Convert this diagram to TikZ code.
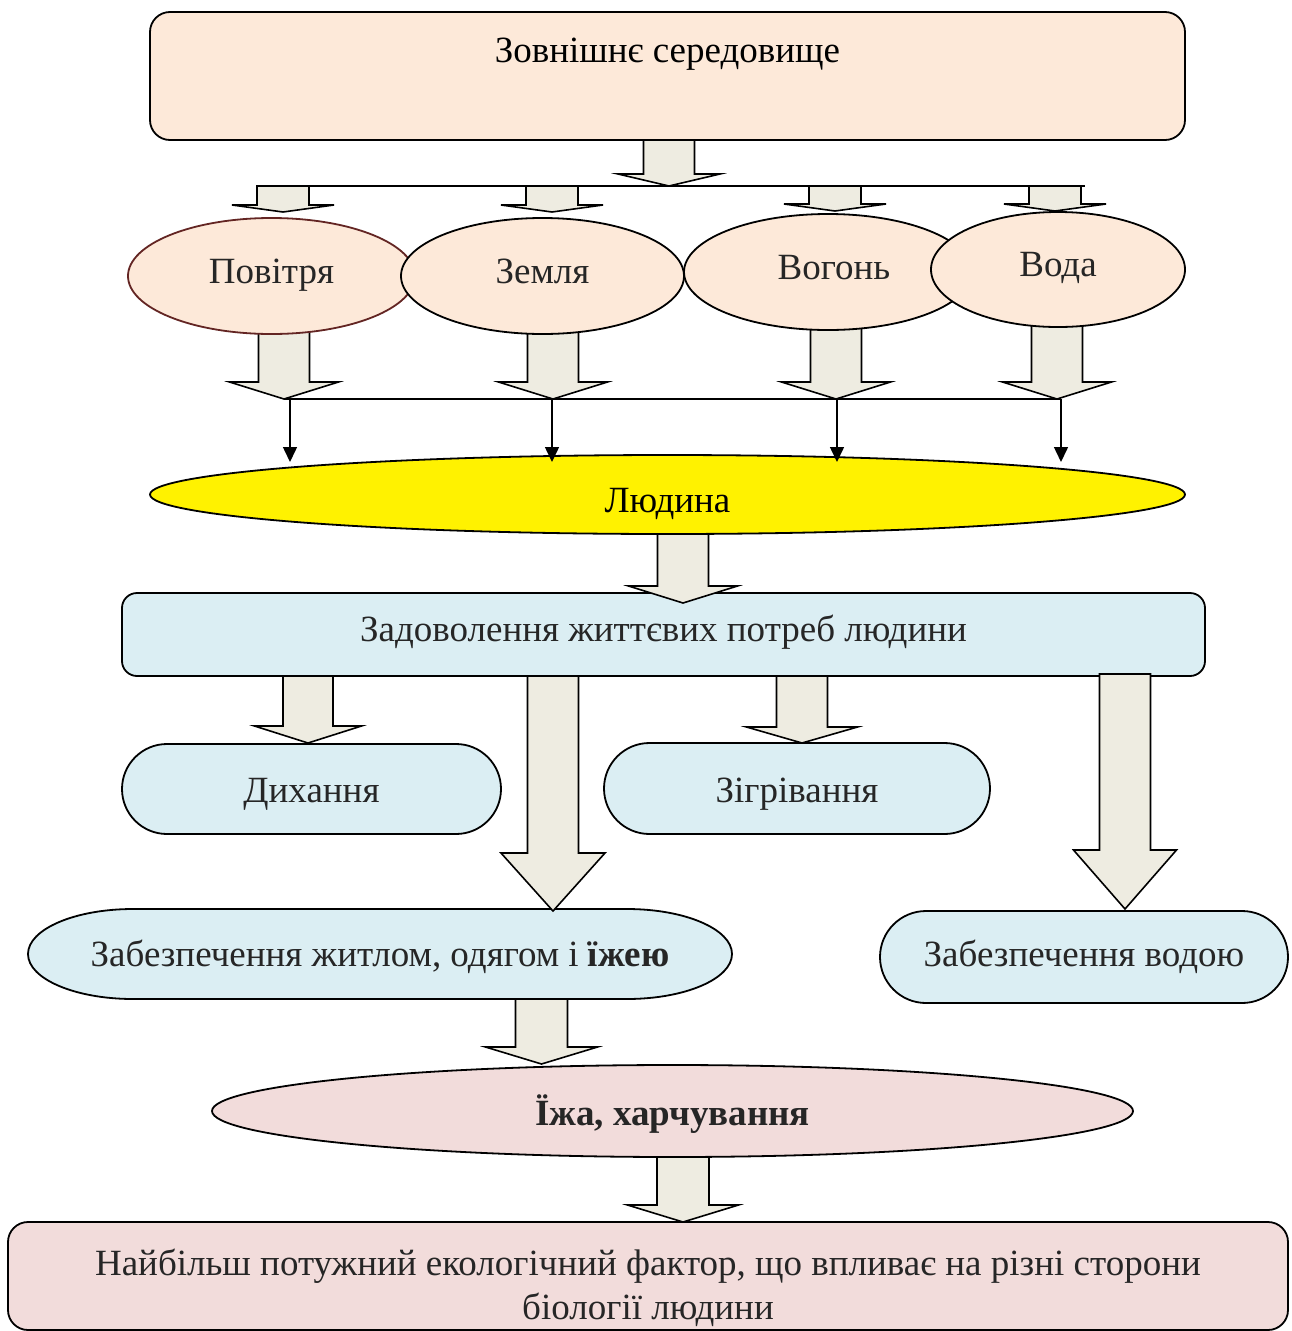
\documentclass[tikz,border=0pt]{standalone}
\usepackage{fontspec}
\setmainfont{Liberation Serif}
\usetikzlibrary{calc,shapes.geometric,shapes.misc,arrows.meta}

\definecolor{peach}{HTML}{FDE9D9}
\definecolor{sky}{HTML}{DBEEF3}
\definecolor{rose}{HTML}{F2DCDB}
\definecolor{stem}{HTML}{EEECE1}
\definecolor{ink}{HTML}{262626}
\definecolor{maroon}{HTML}{632523}

\pgfdeclarelayer{back}
\pgfsetlayers{back,main}

% block arrow: #1 start point (only its y is used), #2 tip point,
% #3 shaft half-width, #4 head half-width, #5 head length (all in pt)
\newcommand\blockarrow[5]{%
  \draw[barrow] let \p1=#1, \p2=#2 in
    (\x2-#3pt,\y1) -- (\x2+#3pt,\y1) -- (\x2+#3pt,\y2+#5pt) --
    (\x2+#4pt,\y2+#5pt) -- (\p2) -- (\x2-#4pt,\y2+#5pt) --
    (\x2-#3pt,\y2+#5pt) -- cycle;}

\tikzset{
  every node/.style={font=\fontsize{37}{44}\selectfont, text=ink,
    inner sep=0pt, outer sep=0pt},
  txt/.style={text height=21pt, text depth=7pt},
  shapeline/.style={draw=black, line width=1.8pt},
  box/.style={shapeline, rectangle, rounded corners=20pt},
  oval/.style={shapeline, ellipse, txt},
  pill/.style={shapeline, rounded rectangle},
  barrow/.style={draw=black, line width=1.6pt, fill=stem, line join=miter},
  bus/.style={draw=black, line width=1.5pt},
  feed/.style={draw=black, line width=1.5pt, -{Triangle[length=15pt,width=14pt]}},
}

\begin{document}
\begin{tikzpicture}[x=1pt,y=-1pt]
\useasboundingbox (0,0) rectangle (1291,1331);

% distribution lines
\coordinate (bus1w) at (257,186);
\coordinate (bus1e) at (1085,186);
\coordinate (bus2w) at (284,399);
\coordinate (bus2e) at (1061,399);

% environment
\node[box, fill=peach, text=black, minimum width=1035pt, minimum height=128pt,
      text height=21pt, text depth=49pt] (env) at (667.5,76) {Зовнішнє середовище};

% the four elements
\node[oval, fill=peach, draw=maroon, minimum width=287pt, minimum height=116pt] (air) at (271.5,276) {Повітря};
\node[oval, fill=peach, minimum width=283pt, minimum height=116pt] (earth) at (542.5,276) {Земля};
\node[oval, fill=peach, minimum width=288pt, minimum height=116pt] (fire) at (828,272) {\hspace*{12pt}Вогонь};
\node[oval, fill=peach, minimum width=254pt, minimum height=115pt] (water) at (1058,269.5) {Вода};

% human
\node[shapeline, ellipse, fill=yellow, text=black, minimum width=1035pt, minimum height=79pt,
      text height=35pt, text depth=0pt] (human) at (667.5,494.5) {Людина};

% needs
\node[box, rounded corners=15pt, fill=sky, txt, minimum width=1083pt, minimum height=83pt] (needs) at (663.5,634.5)
  {Задоволення життєвих потреб людини};
\node[pill, fill=sky, minimum width=379pt, minimum height=90pt, text height=26pt, text depth=0pt] (breath) at (311.5,789)
  {Дихання};
\node[pill, fill=sky, minimum width=386pt, minimum height=91pt, text height=27pt, text depth=0pt] (warm) at (797,788.5)
  {Зігрівання};
\node[rectangle, minimum width=704pt, minimum height=90pt, text height=24pt, text depth=0pt] (home) at (380,954)
  {Забезпечення житлом, одягом і \textbf{їжею}};
\node[pill, fill=sky, minimum width=408pt, minimum height=92pt, text height=25pt, text depth=7pt] (drink) at (1084,957)
  {Забезпечення водою};

% food
\node[shapeline, ellipse, fill=rose, minimum width=921pt, minimum height=92pt,
      text height=28pt, text depth=0pt] (food) at (672.5,1111) {\textbf{Їжа, харчування}};

% conclusion
\node[box, fill=rose, align=center, minimum width=1280pt, minimum height=108pt] (factor) at (648,1276)
  {\rule{0pt}{50pt}Найбільш потужний екологічний фактор, що впливає на різні сторони\\біології людини};

\begin{pgfonlayer}{back}
  % outline of the housing/clothing/food block
  \filldraw[shapeline, fill=sky]
    ($(home.north west)+(105,0)$) -- ($(home.north east)+(-105,0)$)
    arc[start angle=-90, end angle=90, x radius=105, y radius=45]
    -- ($(home.south west)+(105,0)$)
    arc[start angle=90, end angle=270, x radius=105, y radius=45] -- cycle;

  % arrows leaving the four elements
  \blockarrow{($(air.south)+(0,-8)$)}{(284,0 |- bus2w)}{25.5}{54.5}{17}
  \blockarrow{($(earth.south)+(0,-8)$)}{(553,0 |- bus2w)}{25.5}{54.5}{17}
  \blockarrow{($(fire.south)+(0,-8)$)}{(836,0 |- bus2w)}{25.5}{54.5}{17}
  \blockarrow{($(water.south)+(0,-8)$)}{(1057,0 |- bus2w)}{25.5}{54.5}{17}
\end{pgfonlayer}

\draw[bus] (bus1w) -- (bus1e);
\draw[bus] (bus2w) -- (bus2e);

% from the environment to the elements
\blockarrow{(env.south)}{(669,0 |- bus1w)}{25.5}{51}{12}
\blockarrow{(bus1w)}{($(283,0 |- air.north)+(0,-6)$)}{26}{51}{7}
\blockarrow{(bus1w)}{($(552,0 |- earth.north)+(0,-6)$)}{26}{51}{7}
\blockarrow{(bus1w)}{($(835,0 |- fire.north)+(0,-3)$)}{26}{51}{7}
\blockarrow{(bus1w)}{($(1055,0 |- water.north)+(0,-1)$)}{26}{51}{7}

% from the elements to the human
\draw[feed] (290,0 |- bus2w) -- ($(290,0 |- human.north)+(0,7)$);
\draw[feed] (552,0 |- bus2w) -- ($(552,0 |- human.north)+(0,7)$);
\draw[feed] (837,0 |- bus2w) -- ($(837,0 |- human.north)+(0,7)$);
\draw[feed] (1061,0 |- bus2w) -- ($(1061,0 |- human.north)+(0,7)$);

% human needs
\blockarrow{(human.south)}{($(683,0 |- needs.north)+(0,10)$)}{25.5}{54.5}{17}
\blockarrow{(needs.south)}{($(308,0 |- breath.north)+(0,-1)$)}{25}{53.5}{17}
\blockarrow{(needs.south)}{($(553,0 |- home.north)+(0,2)$)}{25.5}{52}{58}
\blockarrow{(needs.south)}{($(802,0 |- warm.north)+(0,0)$)}{25.5}{55.5}{16}
\blockarrow{($(needs.south)+(0,-2)$)}{($(1125,0 |- drink.north)+(0,-2)$)}{25.5}{51.5}{59}
\blockarrow{(home.south)}{($(541.5,0 |- food.north)+(0,-1)$)}{26}{56}{17}
\blockarrow{(food.south)}{(683,0 |- factor.north)}{26}{55.5}{17}
\end{tikzpicture}
\end{document}
